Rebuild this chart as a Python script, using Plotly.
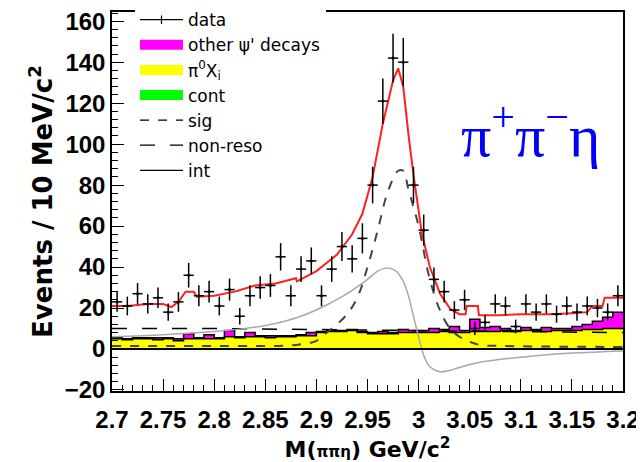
import numpy as np
import plotly.graph_objects as go

# ---------------- data ----------------
bin_edges_lo = 2.70
bin_width = 0.01
n_bins = 50

data_counts = [23, 21, 27, 22, 25, 18, 23, 36, 26, 28,
               21, 29, 16, 26, 30, 31, 45, 26, 39, 43,
               26, 39, 50, 44, 54, 80, 121, 142, 140, 80,
               58, 34, 28, 19, 24, 10, 13, 22, 21, 11,
               22, 18, 22, 17, 21, 18, 21, 20, 18, 26]

pi0xi_hist = [5, 4.5, 5, 5, 4.5, 5, 4, 5, 5, 5,
              5, 6, 5.5, 6, 6, 5.5, 6, 6, 6.5, 6.5,
              8, 8.5, 8.5, 9, 8, 7.5, 7.5, 7.5, 8, 8,
              8, 8, 8.5, 8, 8, 8.5, 8.5, 8.5, 9, 8.5,
              9, 9, 8.5, 9, 9, 9, 9.5, 9.5, 10, 10]

other_psi_hist = [0.5, 0.5, 0.5, 0.5, 1, 0.5, 1, 2.5, 0.5, 2,
                  0.5, 3, 0.5, 2, 0.5, 1, 0.5, 0.5, 0.5, 1.5,
                  0.5, 0.5, 0.5, 0.5, 0.5, 0.5, 1, 0.5, 1.5, 1,
                  1, 2, 1, 3, 1, 6, 2, 2.5, 1, 0.5,
                  1.5, 0.5, 2, 1, 1, 2, 2.5, 4, 5.5, 8]

total_x = [2.700, 2.715, 2.735, 2.750, 2.758, 2.765, 2.772, 2.780, 2.783, 2.800,
           2.820, 2.840, 2.860, 2.880, 2.881, 2.900, 2.920, 2.935, 2.945, 2.955,
           2.965, 2.975, 2.980, 2.985, 2.990, 2.995, 3.003, 3.011, 3.021, 3.031,
           3.040, 3.046, 3.047, 3.058, 3.059, 3.080, 3.100, 3.130, 3.150, 3.165,
           3.170, 3.180, 3.182, 3.200]
total_y = [21, 21, 22, 22, 20.5, 23, 28, 28, 25.5, 26,
           28, 31, 32, 34.5, 33, 38, 46, 56, 66, 84,
           110, 131, 137, 128, 105, 85, 57, 40, 27, 19.5,
           17, 17, 21, 21, 16.5, 16.5, 17, 17, 17.5, 18,
           21, 21, 25, 25]

sig_x = [2.70, 2.80, 2.88, 2.90, 2.91, 2.92, 2.93, 2.94, 2.95, 2.96,
         2.97, 2.98, 2.985, 2.99, 3.00, 3.01, 3.02, 3.03, 3.04, 3.05,
         3.06, 3.08, 3.20]
sig_y = [1.5, 1.5, 2, 4, 8, 12, 17, 25, 40, 58,
         77, 87, 87, 78, 60, 36, 20, 10.5, 6, 3.5,
         2, 1.5, 1]

int_x = [2.70, 2.75, 2.80, 2.825, 2.85, 2.87, 2.89, 2.91, 2.93, 2.95,
         2.96, 2.97, 2.978, 2.985, 2.99, 2.995, 3.00, 3.005, 3.01, 3.02,
         3.03, 3.04, 3.06, 3.09, 3.12, 3.15, 3.20]
int_y = [6, 7, 8.5, 9.7, 11.5, 13.7, 17, 21.5, 27, 34,
         38, 39.6, 38, 33, 26, 16, 6, -3, -8, -11,
         -10.5, -9, -6.5, -4.5, -3, -2, -1]

nonreso_x = [2.70, 2.80, 2.90, 3.00, 3.10, 3.20]
nonreso_y = [10, 10, 9.5, 9, 8.5, 8]

x_tick_vals = [2.7, 2.75, 2.8, 2.85, 2.9, 2.95, 3.0, 3.05, 3.1, 3.15, 3.2]
x_tick_text = ["2.7", "2.75", "2.8", "2.85", "2.9", "2.95", "3", "3.05", "3.1", "3.15", "3.2"]
y_tick_vals = [-20, 0, 20, 40, 60, 80, 100, 120, 140, 160]

# ---------------- derived positions ----------------
centers = bin_edges_lo + bin_width * (np.arange(n_bins) + 0.5)
edges = bin_edges_lo + bin_width * np.arange(n_bins + 1)
yel = np.array(pi0xi_hist, dtype=float)
mag = yel + np.array(other_psi_hist, dtype=float)
yel_step = np.append(yel, yel[-1])
mag_step = np.append(mag, mag[-1])
counts = np.array(data_counts, dtype=float)
errs = np.sqrt(counts)

TICKFONT = "Liberation Sans"
TITLEFONT = "DejaVu Sans"
fig = go.Figure()

# stacked histograms (step-filled)
fig.add_trace(go.Scatter(x=edges, y=yel_step, mode="lines", line_shape="hv",
                         fill="tozeroy", fillcolor="#ffff00",
                         line=dict(color="black", width=1.5), showlegend=False,
                         hoverinfo="skip"))
fig.add_trace(go.Scatter(x=edges, y=mag_step, mode="lines", line_shape="hv",
                         fill="tonexty", fillcolor="#ff00ff",
                         line=dict(color="black", width=1.5), showlegend=False,
                         hoverinfo="skip"))

# fit components
fig.add_trace(go.Scatter(x=nonreso_x, y=nonreso_y, mode="lines",
                         line=dict(color="black", width=1.5, dash="longdash"),
                         showlegend=False))
fig.add_trace(go.Scatter(x=int_x, y=int_y, mode="lines", line_shape="spline",
                         line=dict(color="#a8a8a8", width=1.5), showlegend=False))
fig.add_trace(go.Scatter(x=sig_x, y=sig_y, mode="lines", line_shape="spline",
                         line=dict(color="#444444", width=2, dash="dash"),
                         showlegend=False))
fig.add_trace(go.Scatter(x=total_x, y=total_y, mode="lines",
                         line=dict(color="#ff2020", width=2), showlegend=False))

# data points
fig.add_trace(go.Scatter(x=centers, y=counts, mode="markers",
                         marker=dict(color="black", size=3),
                         error_y=dict(type="data", array=errs, color="black",
                                      thickness=1.5, width=0),
                         error_x=dict(type="constant", value=bin_width / 2,
                                      color="black", thickness=1.5, width=0),
                         showlegend=False))

# legend proxies
def proxy(name, **kw):
    fig.add_trace(go.Scatter(x=[None], y=[None], name=name, **kw))

proxy("data", mode="lines+markers", line=dict(color="black", width=1.2),
      marker=dict(symbol="line-ns-open", size=6, color="black",
                  line=dict(color="black", width=1.2)))
proxy("other ψ' decays", mode="lines", line=dict(color="#ff00ff", width=15))
proxy("π<sup>0</sup>X<sub>i</sub>", mode="lines", line=dict(color="#ffff00", width=15))
proxy("cont", mode="lines", line=dict(color="#00ff00", width=15))
proxy("sig", mode="lines", line=dict(color="black", width=1.2, dash="dash"))
proxy("non-reso", mode="lines", line=dict(color="black", width=1.2, dash="longdash"))
proxy("int", mode="lines", line=dict(color="black", width=1.2))

fig.add_annotation(text="π<sup>+</sup>π<sup>−</sup>η", xref="paper", yref="paper",
                   x=0.680, y=0.686, xanchor="left", yanchor="middle",
                   showarrow=False,
                   font=dict(family="Liberation Serif", size=60, color="#0000ff"))

fig.add_shape(type="line", xref="paper", yref="y", x0=0, x1=1, y0=0, y1=0,
              line=dict(color="black", width=2), layer="above")

axis_common = dict(showline=True, linecolor="black", linewidth=1.5, mirror=True,
                   ticks="inside", tickcolor="black", showgrid=False,
                   zeroline=False, automargin=False, ticklabeloverflow="allow",
                   tickfont=dict(family=TICKFONT, size=24, color="black",
                                 weight="bold"))

# the page adds an 8px body margin, so the figure is sized/offset to compensate
fig.update_layout(
    width=636, height=454,
    margin=dict(l=104, r=21, t=4, b=71, autoexpand=False),
    paper_bgcolor="white", plot_bgcolor="white",
    showlegend=True,
    legend=dict(x=0.045, y=1.026, xanchor="left", yanchor="top",
                bgcolor="white", borderwidth=0, traceorder="normal",
                font=dict(family=TITLEFONT, size=17, color="black"),
                itemwidth=43, tracegroupgap=0),
    xaxis=dict(range=[2.70, 3.20], tickvals=x_tick_vals, ticktext=x_tick_text,
               ticklen=12, ticklabelstandoff=6,
               minor=dict(ticks="inside", dtick=0.01, tick0=2.7,
                          ticklen=6, tickcolor="black"),
               title=dict(text="M(<span style='font-size:15px'>ππη</span>) GeV/c<sup>2</sup>",
                          font=dict(family=TITLEFONT, size=22, color="black",
                                    weight="bold"),
                          standoff=10),
               **axis_common),
    yaxis=dict(range=[-20.5, 164.5], tickvals=y_tick_vals,
               ticklen=12, minor=dict(ticks="inside", dtick=4, tick0=0,
                                      ticklen=6, tickcolor="black"),
               title=dict(text="Events / 10 MeV/c<sup>2</sup>",
                          font=dict(family=TITLEFONT, size=26, color="black",
                                    weight="bold"),
                          standoff=5),
               **axis_common),
)

fig.write_html("out.html")
